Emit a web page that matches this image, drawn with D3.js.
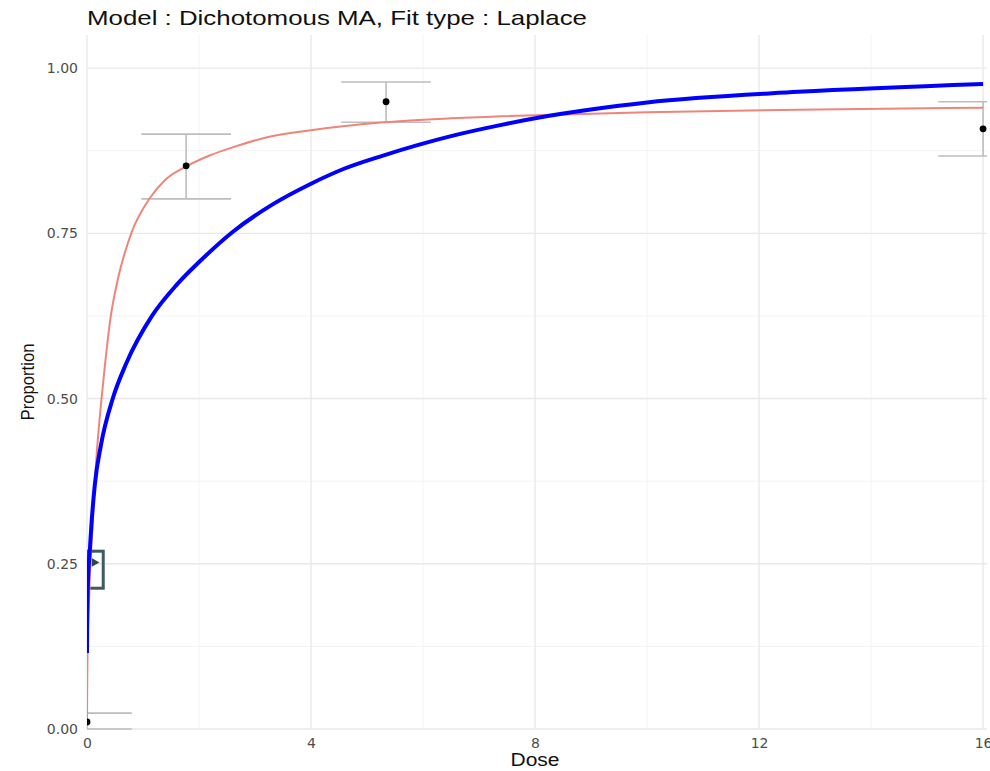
<!DOCTYPE html>
<html>
<head>
<meta charset="utf-8">
<script src="https://cdn.jsdelivr.net/npm/d3@7"></script>
<style>
  body { margin: 0; background: #fff; }
  text { font-family: "Liberation Sans", Arial, sans-serif; }
</style>
</head>
<body>
<svg id="chart" width="990" height="771"></svg>
<script>
// observed proportions with interval bounds
var doses = [0, 1.77, 5.34, 16.0];
var props = [0.0106, 0.852, 0.949, 0.908];
var lower = [0.0, 0.802, 0.918, 0.867];
var upper = [0.024, 0.900, 0.979, 0.949];

// model average curve (blue)
var maDose = [0, 0.003, 0.01, 0.03, 0.05, 0.08, 0.14, 0.25, 0.46, 0.7, 1.16, 1.6, 2.02, 2.6, 3.3, 4.0, 4.6, 5.3, 6.5, 7.4, 8.2, 10, 12.7, 16];
var maProp = [0.115, 0.16, 0.2, 0.245, 0.27, 0.31, 0.37, 0.43, 0.50, 0.553, 0.625, 0.672, 0.708, 0.752, 0.793, 0.825, 0.848, 0.868, 0.897, 0.914, 0.927, 0.948, 0.964, 0.976];

// individual fitted curve (salmon)
var fitDose = [0, 0.003, 0.01, 0.03, 0.06, 0.1, 0.16, 0.2, 0.26, 0.32, 0.42, 0.55, 0.8, 1.12, 1.4, 1.77, 2.2, 2.6, 3.2, 4, 5.3, 6.5, 7.4, 10, 12.7, 16];
var fitProp = [0.01, 0.06, 0.115, 0.18, 0.25, 0.31, 0.40, 0.445, 0.50, 0.55, 0.622, 0.68, 0.752, 0.803, 0.831, 0.851, 0.868, 0.88, 0.895, 0.906, 0.918, 0.924, 0.927, 0.933, 0.937, 0.940];

// BMD interval box
var bmdLo = 0, bmdHi = 0.29, bmdPLo = 0.213, bmdPHi = 0.269, bmdEst = 0.13, bmdP = 0.252;

var xTicks = [0, 4, 8, 12, 16];
var xMinor = [2, 6, 10, 14];
var yTicks = [0, 0.25, 0.5, 0.75, 1.0];
var yMinor = [0.125, 0.375, 0.625, 0.875];

var margin = {top: 35, left: 87, right: 3, bottom: 42};
var width = 990, height = 771;
var svg = d3.select("#chart");

var x = d3.scaleLinear().domain([0, 16.07]).range([margin.left, width - margin.right]);
var y = d3.scaleLinear().domain([0, 1.05]).range([height - margin.bottom, margin.top]);

svg.append("defs").append("clipPath").attr("id", "panel")
  .append("rect")
  .attr("x", x(0)).attr("y", 0)
  .attr("width", x(16.07) - x(0)).attr("height", y(0) + 2);

var grid = svg.append("g");
grid.selectAll("line.ymin").data(yMinor).enter().append("line")
  .attr("x1", x(0)).attr("x2", x(16.07))
  .attr("y1", d => y(d)).attr("y2", d => y(d))
  .style("stroke", "#f3f3f3").style("stroke-width", 1);
grid.selectAll("line.xmin").data(xMinor).enter().append("line")
  .attr("y1", y(0)).attr("y2", y(1.05))
  .attr("x1", d => x(d)).attr("x2", d => x(d))
  .style("stroke", "#f3f3f3").style("stroke-width", 1);
grid.selectAll("line.ymaj").data(yTicks).enter().append("line")
  .attr("x1", x(0)).attr("x2", x(16.07))
  .attr("y1", d => y(d)).attr("y2", d => y(d))
  .style("stroke", "#e8e8e8").style("stroke-width", 1.3);
grid.selectAll("line.xmaj").data(xTicks).enter().append("line")
  .attr("y1", y(0)).attr("y2", y(1.05))
  .attr("x1", d => x(d)).attr("x2", d => x(d))
  .style("stroke", "#e8e8e8").style("stroke-width", 1.3);

var plot = svg.append("g").attr("clip-path", "url(#panel)");

// error bars
var obs = doses.map((d, i) => ({dose: d, p: props[i], lo: lower[i], hi: upper[i]}));
var capHalf = 0.8;
obs.forEach(function(d) {
  var g = plot.append("g").style("stroke", "#bdbdbd").style("stroke-width", 1.6);
  g.append("line").attr("x1", x(d.dose)).attr("x2", x(d.dose))
    .attr("y1", y(d.lo)).attr("y2", y(d.hi));
  g.append("line").attr("x1", x(d.dose - capHalf)).attr("x2", x(d.dose + capHalf))
    .attr("y1", y(d.lo)).attr("y2", y(d.lo));
  g.append("line").attr("x1", x(d.dose - capHalf)).attr("x2", x(d.dose + capHalf))
    .attr("y1", y(d.hi)).attr("y2", y(d.hi));
});

// BMD box
plot.append("rect")
  .attr("x", x(bmdLo) + 1.5).attr("y", y(bmdPHi))
  .attr("width", x(bmdHi) - x(bmdLo) - 1.5).attr("height", y(bmdPLo) - y(bmdPHi))
  .style("fill", "none").style("stroke", "#3e5b60").style("stroke-width", 3);
plot.append("path")
  .attr("transform", "translate(" + x(bmdEst) + "," + y(bmdP) + ") rotate(-30)")
  .attr("d", d3.symbol(d3.symbolTriangle, 34)())
  .style("fill", "#2f4548");

var line = d3.line().x(d => x(d[0])).y(d => y(d[1])).curve(d3.curveMonotoneX);

plot.append("path")
  .datum(fitDose.map((d, i) => [d, fitProp[i]]))
  .attr("d", line)
  .style("fill", "none").style("stroke", "#ee8579").style("stroke-width", 2);

plot.append("path")
  .datum(maDose.map((d, i) => [d, maProp[i]]))
  .attr("d", line)
  .style("fill", "none").style("stroke", "#0000ff").style("stroke-width", 4);

// points
plot.selectAll("circle").data(obs).enter().append("circle")
  .attr("cx", d => x(d.dose)).attr("cy", d => y(d.p)).attr("r", 3.4)
  .style("fill", "#000");

// axes
var xAxis = svg.append("g")
  .attr("transform", "translate(0," + y(0) + ")")
  .call(d3.axisBottom(x).tickValues(xTicks).tickSize(0).tickPadding(9).tickFormat(d3.format("d")));
var yAxis = svg.append("g")
  .attr("transform", "translate(" + x(0) + ",0)")
  .call(d3.axisLeft(y).tickValues(yTicks).tickSize(0).tickPadding(9).tickFormat(d3.format(".2f")));
[xAxis, yAxis].forEach(function(a) {
  a.select(".domain").remove();
  a.selectAll("text").style("font-size", "14px").style("fill", "#4d4d4d")
    .style("font-family", "'DejaVu Sans', sans-serif");
});

svg.append("text")
  .attr("x", x(8)).attr("y", 766)
  .attr("text-anchor", "middle")
  .attr("textLength", 49).attr("lengthAdjust", "spacingAndGlyphs")
  .style("font-size", "18px").style("fill", "#111")
  .text("Dose");

svg.append("text")
  .attr("transform", "translate(34," + (y(0) + y(1.05)) / 2 + ") rotate(-90)")
  .attr("text-anchor", "middle")
  .attr("textLength", 77).attr("lengthAdjust", "spacingAndGlyphs")
  .style("font-size", "18px").style("fill", "#111")
  .text("Proportion");

svg.append("text")
  .attr("x", x(0)).attr("y", 25)
  .attr("textLength", 500).attr("lengthAdjust", "spacingAndGlyphs")
  .style("font-size", "21px").style("fill", "#111")
  .text("Model : Dichotomous MA, Fit type : Laplace");
</script>
</body>
</html>
